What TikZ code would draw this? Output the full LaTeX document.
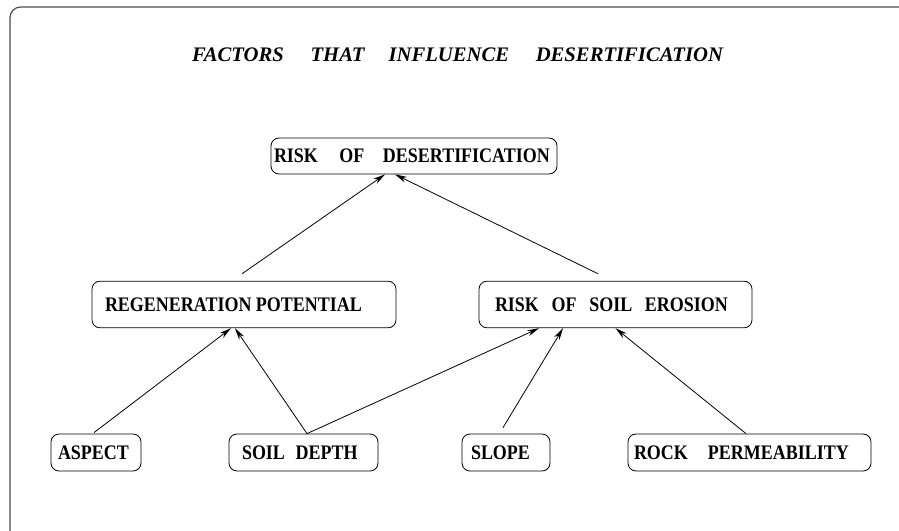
\documentclass[tikz,border=0pt]{standalone}
\usepackage{fontspec}
\setmainfont{Liberation Serif}
\newfontfamily\boxfont[FakeStretch=0.87]{Liberation Serif}
\usepackage{tikz}
\usetikzlibrary{positioning,arrows.meta,calc}
\newcommand{\gap}[1]{\hspace{#1pt}}

\begin{document}
\begin{tikzpicture}[
    x=0.75pt, y=-0.75pt,
    >={Stealth[length=9pt,width=4.5pt]},
    arr/.style={->, line width=0.6pt, black},
    frame/.style={rounded corners=8pt, draw=black!70, line width=0.9pt},
    title/.style={font=\fontsize{15.5}{18}\selectfont\bfseries\itshape, inner sep=0pt},
    box/.style={
        rectangle, rounded corners=6pt, draw=black, line width=0.6pt,
        align=flush left, inner ysep=0pt,
        font=\boxfont\fontsize{15.5}{18}\selectfont\bfseries
    },
    mid/.style={box, minimum height=35pt},
    leaf/.style={box, minimum height=27.75pt}
]
\useasboundingbox (0,0) rectangle (899,531);
\clip (0,0) rectangle (899,531);

% ---------------- Frame and title ----------------
\draw[frame] (10,7) rectangle (980,600);
\node[title] (ttl) at (457.5,54.5) {FACTORS\gap{20}THAT\gap{18}INFLUENCE\gap{20}DESERTIFICATION};

% ---------------- Nodes ----------------
\node[box, minimum height=27pt, text width=210pt, inner xsep=2.25pt] (risk) at (414,156)
    {\mbox{RISK\gap{16}OF\gap{14}DESERTIFICATION}};
\node[mid, text width=208.5pt, inner xsep=9.75pt] (regen) at (244,304.5)
    {REGENERATION POTENTIAL};
\node[mid, text width=180.75pt, inner xsep=12pt] (erosion) at (615.5,304.5)
    {RISK\gap{9.5}OF\gap{9.5}SOIL\gap{9.5}EROSION};

\node[leaf, text width=57pt, inner xsep=5.25pt] (aspect) at (96,452.5) {ASPECT};
\node[leaf, text width=92.25pt, inner xsep=9.75pt] (soil) at (303.5,452.5) {SOIL\gap{8}DEPTH};
\node[leaf, text width=52.5pt, inner xsep=6.75pt] (slope) at (506,452.5) {SLOPE};
\node[leaf, text width=173.25pt, inner xsep=4.5pt] (rock) at (749.5,452.5) {ROCK\gap{15}PERMEABILITY};

% ---------------- Connectors ----------------
\draw[arr] ([shift={(-2,-7)}]regen.north) -- ([xshift=-29*0.75pt]risk.south);
\draw[arr] ([shift={(-17.5,-7)}]erosion.north) -- ([xshift=-19*0.75pt]risk.south);

\draw[arr] ([shift={(-2,-1)}]aspect.north) -- ([xshift=-13*0.75pt]regen.south);
\draw[arr] ([xshift=3.5*0.75pt]soil.north) -- ([xshift=-9*0.75pt]regen.south);
\draw[arr] ([xshift=3.5*0.75pt]soil.north) -- ([xshift=-76.5*0.75pt]erosion.south);
\draw[arr] ([shift={(-3,-6)}]slope.north) -- ([xshift=-52.5*0.75pt]erosion.south);
\draw[arr] ([xshift=-3.5*0.75pt]rock.north) -- (erosion.south);

\end{tikzpicture}
\end{document}
